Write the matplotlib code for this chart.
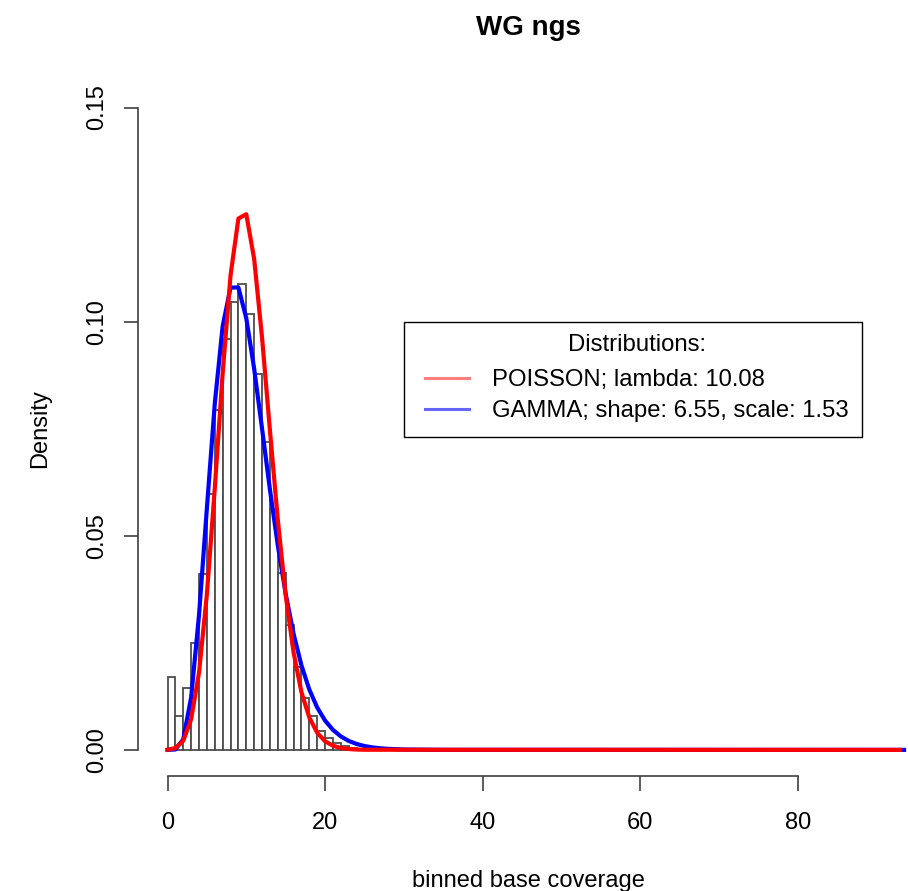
import matplotlib.pyplot as plt
from matplotlib.lines import Line2D
from matplotlib.patches import Rectangle

plt.rcParams['font.family'] = ['Liberation Sans', 'DejaVu Sans']

# histogram of binned base coverage (bin width 1, density)
bin_left = list(range(0, 28))
bin_density = [0.0171, 0.0078, 0.0144, 0.0250, 0.0410, 0.0598, 0.0793, 0.0960,
               0.1045, 0.1088, 0.1019, 0.0878, 0.0719, 0.0563, 0.0413, 0.0291,
               0.0194, 0.0120, 0.0078, 0.0043, 0.0027, 0.0016, 0.0009, 0.0005,
               0.0003, 0.0002, 0.0001, 0.0001]

# fitted poisson curve (lambda 10.08)
pois_x = list(range(0, 26)) + [93]
pois_y = [0.00004, 0.00042, 0.00213, 0.00716, 0.01803, 0.03635, 0.06107, 0.08794,
          0.11080, 0.12409, 0.12509, 0.11463, 0.09629, 0.07466, 0.05375, 0.03612,
          0.02276, 0.01349, 0.00756, 0.00401, 0.00202, 0.00097, 0.00044, 0.00020,
          0.00008, 0.00003, 0.0]

# fitted gamma curve (shape 6.55, scale 1.53)
gamma_x = list(range(0, 29)) + [30, 35, 93.5]
gamma_y = [0.0, 0.00010, 0.00248, 0.01226, 0.03148, 0.05648, 0.08086, 0.09893,
           0.10797, 0.10799, 0.10080, 0.08900, 0.07503, 0.06083, 0.04777, 0.03645,
           0.02712, 0.01974, 0.01410, 0.00990, 0.00685, 0.00467, 0.00315, 0.00209,
           0.00138, 0.00090, 0.00058, 0.00037, 0.00024, 0.00009, 0.00001, 0.0]

legend_labels = ['POISSON; lambda: 10.08', 'GAMMA; shape: 6.55, scale: 1.53']

fig = plt.figure(figsize=(9.08, 8.91), dpi=100)
ax = fig.add_axes([137.5 / 908, 115 / 891, 781.5 / 908, 695 / 891])

ax.bar(bin_left, bin_density, width=1, align='edge', facecolor='white',
       edgecolor='#4d4d4d', linewidth=1.3)
ax.plot(gamma_x, gamma_y, color='blue', linewidth=3, clip_on=False)
ax.plot(pois_x, pois_y, color='red', linewidth=3, clip_on=False)

ax.set_xlim(-3.81, 95.4)
ax.set_ylim(-0.0061, 0.1562)

# R style axes: lines only between first and last tick
for s in ['top', 'right']:
    ax.spines[s].set_visible(False)
ax.spines['left'].set_bounds(0, 0.15)
ax.spines['bottom'].set_bounds(0, 80)
for s in ['left', 'bottom']:
    ax.spines[s].set_color('#404040')
    ax.spines[s].set_linewidth(1.2)

ax.set_xticks([0, 20, 40, 60, 80])
ax.set_yticks([0.00, 0.05, 0.10, 0.15])
ax.set_yticklabels(['0.00', '0.05', '0.10', '0.15'], rotation=90, va='center')
ax.tick_params(axis='x', length=11, width=1.2, color='#404040', pad=15, labelsize=17)
ax.tick_params(axis='y', length=10, width=1.2, color='#404040', pad=11, labelsize=17)

ax.set_xlabel('binned base coverage', fontsize=17, labelpad=26)
ax.set_ylabel('Density', fontsize=17, labelpad=25)
ax.set_title('WG ngs', fontsize=20, fontweight='bold', pad=33)

# legend content without frame, box drawn separately (R style)
handles = [Line2D([], [], color='#ff7f7f', linewidth=2.2),
           Line2D([], [], color='#6666ff', linewidth=2.2)]
leg = ax.legend(handles, legend_labels, title='Distributions:', fontsize=17.2,
                title_fontsize=17.2, loc='upper left',
                bbox_to_anchor=(425 / 908, 1 - 334 / 891),
                bbox_transform=fig.transFigure, borderaxespad=0,
                frameon=False, handlelength=1.85, handletextpad=0.95,
                labelspacing=0.38, borderpad=0)
leg._legend_box.sep = 0.3 * 17.2 + 4.3  # extra gap under the title

fig.add_artist(Rectangle((404 / 908, 1 - 437 / 891), 458 / 908, 115 / 891,
                         transform=fig.transFigure, fill=False,
                         edgecolor='black', linewidth=1.0))

plt.savefig('out.png', dpi=100)
